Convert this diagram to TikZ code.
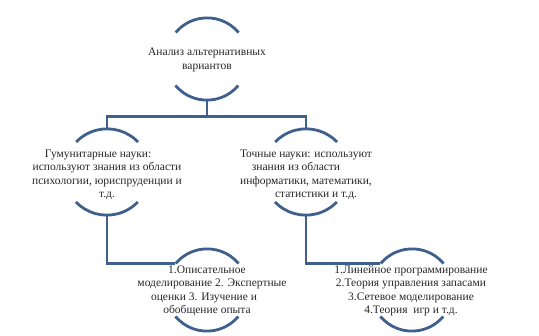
\documentclass[tikz,border=0pt]{standalone}
\usepackage{fontspec}
\setmainfont{Liberation Serif}
\definecolor{sa}{HTML}{3F5F8C}
\definecolor{txt}{HTML}{262626}
\begin{document}
\begin{tikzpicture}[x=1pt,y=1pt,
  ring/.style={circle,inner sep=0pt,minimum size=#1},
  arcline/.style={draw=sa,line width=2.8pt},
  conn/.style={draw=sa,line width=2.4pt},
  lbl/.style={align=center,font=\fontsize{11.5}{13.5}\selectfont,text=txt,inner sep=0pt}]
\useasboundingbox (0,0) rectangle (539,336);
% circles (invisible, only arcs drawn)
\node[ring=82pt] (top) at (207,277) {};
\node[ring=86pt] (la) at (107,164) {};
\node[ring=86pt] (ra) at (306,164) {};
\node[ring=82pt] (lb) at (207,46) {};
\node[ring=82pt] (rb) at (412,46) {};
% arcs
\draw[arcline] (top.40) arc[start angle=40,end angle=140,radius=41pt];
\draw[arcline] (top.220) arc[start angle=220,end angle=320,radius=41pt];
\draw[arcline] (la.44) arc[start angle=44,end angle=136,radius=43pt];
\draw[arcline] (la.224) arc[start angle=224,end angle=316,radius=43pt];
\draw[arcline] (ra.44) arc[start angle=44,end angle=136,radius=43pt];
\draw[arcline] (ra.224) arc[start angle=224,end angle=316,radius=43pt];
\draw[arcline] (lb.40) arc[start angle=40,end angle=140,radius=41pt];
\draw[arcline] (lb.220) arc[start angle=220,end angle=320,radius=41pt];
\draw[arcline] (rb.40) arc[start angle=40,end angle=140,radius=41pt];
\draw[arcline] (rb.220) arc[start angle=220,end angle=320,radius=41pt];
% connectors
\coordinate (j1) at (207,219.5);
\draw[conn] (top.south) -- (j1);
\draw[conn] (la.north) |- (j1) -| (ra.north);
\draw[conn] (la.south) |- (lb.140);
\draw[conn] (ra.south) |- (rb.140);
% labels
\node[lbl] (tt) at (207,276) {Анализ альтернативных\\вариантов};
\node[lbl] (lat) at (107,161) {Гумунитарные науки:\kern18pt\\используют знания из области\\психологии, юриспруденции и\\т.д.};
\node[lbl] (rat) at (306,161) {Точные науки: используют\\знания из области\kern20pt\\информатики, математики,\\\kern20pt статистики и т.д.};
\node[lbl] (lbt) at (207,45) {1.Описательное\\\kern10pt моделирование 2. Экспертные\\оценки 3. Изучение и\kern6pt\\обобщение опыта};
\node[lbl] (rbt) at (411,45) {1.Линейное программирование\\2.Теория управления запасами\\3.Сетевое моделирование\\4.Теория \ игр и т.д.};
\end{tikzpicture}
\end{document}
